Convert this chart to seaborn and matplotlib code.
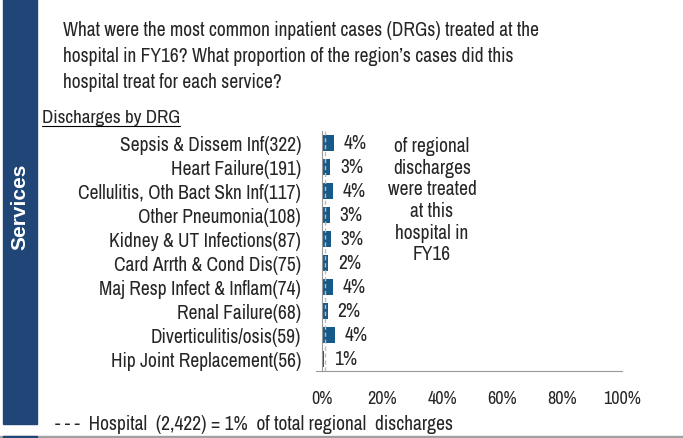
import pandas as pd
import seaborn as sns
from matplotlib import pyplot as plt
from matplotlib.patches import Rectangle
from matplotlib.ticker import FixedLocator

# data
drgs = ["Sepsis & Dissem Inf(322)", "Heart Failure(191)", "Cellulitis, Oth Bact Skn Inf(117)",
        "Other Pneumonia(108)", "Kidney & UT Infections(87)", "Card Arrth & Cond Dis(75)",
        "Maj Resp Infect & Inflam(74)", "Renal Failure(68)", "Diverticulitis/osis(59)",
        "Hip Joint Replacement(56)"]
share = [3.9, 2.8, 3.5, 2.7, 2.9, 2.1, 3.8, 1.9, 4.2, 0.7]
share_labels = ["4%", "3%", "4%", "3%", "3%", "2%", "4%", "2%", "4%", "1%"]
hospital_share = 1
x_ticks = [0, 20, 40, 60, 80, 100]

sns.set_style("white")
plt.rcParams['font.family'] = ['Archivo Narrow', 'Liberation Sans', 'DejaVu Sans']

W, H = 683, 439
fig = plt.figure(figsize=(W / 100, H / 100), dpi=100)

df = pd.DataFrame({"drg": drgs, "share": share})
ax = fig.add_axes([322 / W, 1 - 372 / H, 300 / W, 240 / H])
sns.barplot(data=df, x="share", y="drg", orient="h", color="#175a89", saturation=1,
            width=0.64, linewidth=0, ax=ax)
ax.set_xlim(0, 100)
ax.set_xlabel("")
ax.set_ylabel("")
ax.set_xticks(x_ticks)
ax.set_xticklabels([f"{t}%" for t in x_ticks], fontsize=13)
ax.tick_params(axis="x", length=0, pad=14)
ax.tick_params(axis="y", which="major", length=0, pad=15, labelsize=14)
ax.yaxis.set_minor_locator(FixedLocator([i - 0.5 for i in range(len(drgs) + 1)]))
ax.tick_params(axis="y", which="minor", length=4, color="#999999", width=1)
for s in ["top", "right"]:
    ax.spines[s].set_visible(False)
ax.spines["left"].set_color("#999999")
ax.spines["bottom"].set_color("#999999")
ax.spines["bottom"].set_bounds(-2, 100)

ax.axvline(hospital_share, color="#bbbbbb", ls=(0, (3, 2)), lw=1, zorder=5)

for i, (v, lab) in enumerate(zip(share, share_labels)):
    ax.annotate(lab, (v, i), xytext=(7, 0), textcoords="offset points",
                va="center", ha="left", fontsize=14)

fig.text(432 / W, 1 - 137 / H,
         "of regional\ndischarges\nwere treated\nat this\nhospital in\nFY16",
         ha="center", va="top", fontsize=14, linespacing=1.18)

# frame decorations
fig.patches.append(Rectangle((3 / W, 1 - 425 / H), 34 / W, 425 / H, color="#1f4677",
                             transform=fig.transFigure, figure=fig))
fig.patches.append(Rectangle((0, 0), 1, 2.5 / H, color="#a0a0a0",
                             transform=fig.transFigure, figure=fig))
fig.patches.append(Rectangle((3 / W, 0), 34 / W, 2 / H, color="#1f4677",
                             transform=fig.transFigure, figure=fig))
fig.text(20 / W, 1 - 207 / H, "Services", rotation=90, color="white", fontsize=15,
         fontweight="bold", ha="center", va="center", family="Liberation Sans")

fig.text(63 / W, 1 - 21 / H,
         "What were the most common inpatient cases (DRGs) treated at the\n"
         "hospital in FY16? What proportion of the region\u2019s cases did this\n"
         "hospital treat for each service?",
         ha="left", va="top", fontsize=14, linespacing=1.48)
sub = fig.text(42 / W, 1 - 118 / H, "Discharges by DRG", ha="left", va="center",
               fontsize=13.7)
fig.canvas.draw()
bb = sub.get_window_extent()
fig.add_artist(plt.Line2D([bb.x0 / W, bb.x1 / W], [(bb.y0 - 1) / H] * 2, color="black",
                          lw=0.8, transform=fig.transFigure))
fig.text(55 / W, 1 - 425 / H,
         "- - -  Hospital  (2,422) = 1%  of total regional  discharges",
         ha="left", va="center", fontsize=14)

fig.savefig("out.png", dpi=100)
